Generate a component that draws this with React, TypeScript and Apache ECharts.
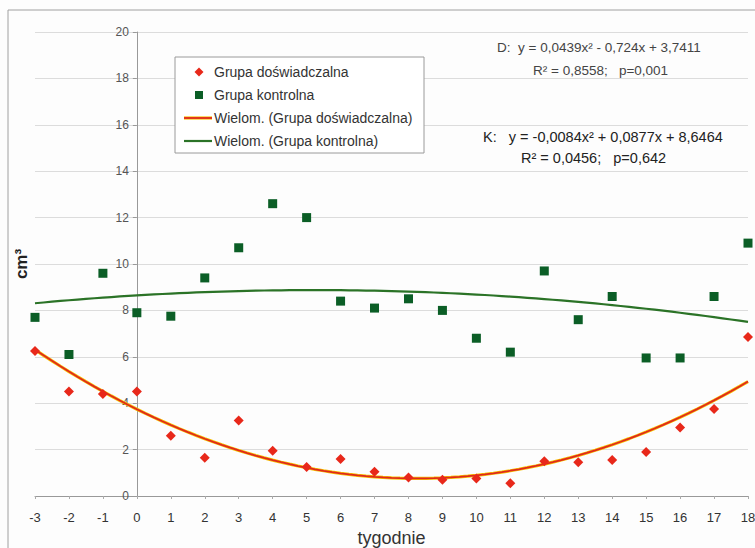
import React, { useEffect, useRef } from "react";
import * as echarts from "echarts";

const weeks = [-3, -2, -1, 0, 1, 2, 3, 4, 5, 6, 7, 8, 9, 10, 11, 12, 13, 14, 15, 16, 17, 18];
const doswiadczalna = [6.25, 4.5, 4.4, 4.5, 2.6, 1.65, 3.25, 1.95, 1.25, 1.6, 1.05, 0.8, 0.7, 0.75, 0.55, 1.5, 1.45, 1.55, 1.9, 2.95, 3.75, 6.85];
const kontrolna = [7.7, 6.1, 9.6, 7.9, 7.75, 9.4, 10.7, 12.6, 12.0, 8.4, 8.1, 8.5, 8.0, 6.8, 6.2, 9.7, 7.6, 8.6, 5.95, 5.95, 8.6, 10.9];
// trend-line coefficients as printed on the chart: [a, b, c] for a*x^2 + b*x + c
const coefD = [0.0439, -0.724, 3.7411];
const coefK = [-0.0084, 0.0877, 8.6464];

const NAME_D = "Grupa doświadczalna";
const NAME_K = "Grupa kontrolna";
const NAME_TD = "Wielom. (Grupa doświadczalna)";
const NAME_TK = "Wielom. (Grupa kontrolna)";

const RED = "#e8281a";
const GREEN = "#0b5e26";
const TREND_GREEN = "#2b7327";

const W = 755;
const H = 548;
const GRID_LEFT = 35;
const GRID_RIGHT = 7;

function trend(coef: number[]) {
  const pts: number[][] = [];
  const x0 = weeks[0];
  const x1 = weeks[weeks.length - 1];
  for (let i = 0; i <= 84; i++) {
    const x = x0 + ((x1 - x0) * i) / 84;
    pts.push([x, coef[0] * x * x + coef[1] * x + coef[2]]);
  }
  return pts;
}

const FONT = "'Liberation Sans', Arial, sans-serif";

function legendGraphics() {
  const bx = 175;
  const by = 57;
  const rows = [72, 95, 118, 141];
  const tx = 214;
  const txt = (y: number, text: string) => ({
    type: "text",
    x: tx,
    y,
    style: { text, font: `14px ${FONT}`, fill: "#333", textVerticalAlign: "middle", verticalAlign: "middle" },
    z: 11,
  });
  return [
    {
      type: "rect",
      shape: { x: bx, y: by, width: 249, height: 96 },
      style: { fill: "#ffffff", stroke: "#9a9a9a", lineWidth: 1 },
      z: 10,
    },
    {
      type: "polygon",
      shape: { points: [[199, rows[0] - 4.5], [203.5, rows[0]], [199, rows[0] + 4.5], [194.5, rows[0]]] },
      style: { fill: RED },
      z: 11,
    },
    txt(rows[0], NAME_D),
    {
      type: "rect",
      shape: { x: 195, y: rows[1] - 4, width: 8, height: 8 },
      style: { fill: GREEN },
      z: 11,
    },
    txt(rows[1], NAME_K),
    {
      type: "line",
      shape: { x1: 184, y1: rows[2], x2: 212, y2: rows[2] },
      style: { stroke: "#f6c000", lineWidth: 3.2 },
      z: 11,
    },
    {
      type: "line",
      shape: { x1: 184, y1: rows[2], x2: 212, y2: rows[2] },
      style: { stroke: "#e0281c", lineWidth: 1.8 },
      z: 12,
    },
    txt(rows[2], NAME_TD),
    {
      type: "line",
      shape: { x1: 184, y1: rows[3], x2: 212, y2: rows[3] },
      style: { stroke: TREND_GREEN, lineWidth: 2.2 },
      z: 11,
    },
    txt(rows[3], NAME_TK),
  ];
}

export default function App() {
  const ref = useRef<HTMLDivElement>(null);
  useEffect(() => {
    if (!ref.current) return;
    const chart = echarts.init(ref.current, undefined, { renderer: "svg" });
    const dPts = weeks.map((w, i) => [w, doswiadczalna[i]]);
    const kPts = weeks.map((w, i) => [w, kontrolna[i]]);
    const xMin = weeks[0];
    const xMax = weeks[weeks.length - 1];
    const plotW = W - GRID_LEFT - GRID_RIGHT;
    // place the y axis where x = 0, with its labels and name
    const yOffset = -(plotW * (0 - xMin)) / (xMax - xMin);
    chart.setOption({
      animation: false,
      backgroundColor: "#fdfdfd",
      textStyle: { fontFamily: FONT },
      grid: { left: GRID_LEFT, right: GRID_RIGHT, top: 32, bottom: 52, containLabel: false, outerBoundsMode: "none" },
      xAxis: {
        type: "value",
        min: xMin,
        max: xMax,
        interval: 1,
        name: "tygodnie",
        nameLocation: "middle",
        nameGap: 30,
        nameTextStyle: { fontSize: 18, color: "#333", fontFamily: FONT },
        axisLine: { onZero: false, lineStyle: { color: "#999", width: 1 } },
        axisTick: { show: true, length: 3, inside: false, lineStyle: { color: "#aaa" } },
        axisLabel: { fontSize: 13, color: "#333", margin: 15, fontFamily: FONT },
        splitLine: { show: false },
      },
      yAxis: {
        type: "value",
        position: "left",
        offset: yOffset,
        min: 0,
        max: 20,
        interval: 2,
        name: "cm³",
        nameLocation: "middle",
        nameRotate: 90,
        nameGap: 107,
        nameTextStyle: { fontSize: 17, fontWeight: "bold", color: "#222", fontFamily: FONT },
        axisLine: { show: true, onZero: false, lineStyle: { color: "#999", width: 1 } },
        axisTick: { show: true, length: 4, lineStyle: { color: "#999" } },
        axisLabel: { fontSize: 12, color: "#555", margin: 8, fontFamily: FONT },
        splitLine: { show: true, lineStyle: { color: "#dcdcdc", width: 1 } },
      },
      graphic: [
        {
          type: "rect",
          shape: { x: 8, y: 10, width: 760, height: 560 },
          style: { fill: "none", stroke: "#a0a0a0", lineWidth: 1 },
          z: 0,
          silent: true,
        },
        {
          type: "text",
          x: 497,
          y: 47,
          style: { text: "D:  y = 0,0439x² - 0,724x + 3,7411", font: `13.5px ${FONT}`, fill: "#444", textVerticalAlign: "middle", verticalAlign: "middle" },
          z: 11,
        },
        {
          type: "text",
          x: 533,
          y: 70,
          style: { text: "R² = 0,8558;   p=0,001", font: `13.5px ${FONT}`, fill: "#444", textVerticalAlign: "middle", verticalAlign: "middle" },
          z: 11,
        },
        {
          type: "text",
          x: 483,
          y: 137,
          style: { text: "K:   y = -0,0084x² + 0,0877x + 8,6464", font: `14.5px ${FONT}`, fill: "#222", textVerticalAlign: "middle", verticalAlign: "middle" },
          z: 11,
        },
        {
          type: "text",
          x: 521,
          y: 158,
          style: { text: "R² = 0,0456;   p=0,642", font: `14.5px ${FONT}`, fill: "#222", textVerticalAlign: "middle", verticalAlign: "middle" },
          z: 11,
        },
        ...legendGraphics(),
      ],
      series: [
        {
          name: "halo",
          type: "line",
          data: trend(coefD),
          showSymbol: false,
          symbol: "none",
          lineStyle: { color: "#f6c000", width: 3.2 },
          z: 2,
          silent: true,
        },
        {
          name: NAME_TD,
          type: "line",
          data: trend(coefD),
          showSymbol: false,
          symbol: "none",
          lineStyle: { color: "#e0281c", width: 1.8 },
          itemStyle: { color: "#e0281c" },
          z: 3,
        },
        {
          name: NAME_TK,
          type: "line",
          data: trend(coefK),
          showSymbol: false,
          symbol: "none",
          lineStyle: { color: TREND_GREEN, width: 2.2 },
          itemStyle: { color: TREND_GREEN },
          z: 3,
        },
        {
          name: NAME_D,
          type: "scatter",
          data: dPts,
          symbol: "diamond",
          symbolSize: 10,
          itemStyle: { color: RED, opacity: 1 },
          z: 4,
        },
        {
          name: NAME_K,
          type: "scatter",
          data: kPts,
          symbol: "rect",
          symbolSize: 9,
          itemStyle: { color: GREEN, opacity: 1 },
          z: 4,
        },
      ],
    });
    return () => chart.dispose();
  }, []);
  return (
    <div
      ref={ref}
      style={{ position: "absolute", left: 0, top: 0, width: W, height: H }}
    />
  );
}
